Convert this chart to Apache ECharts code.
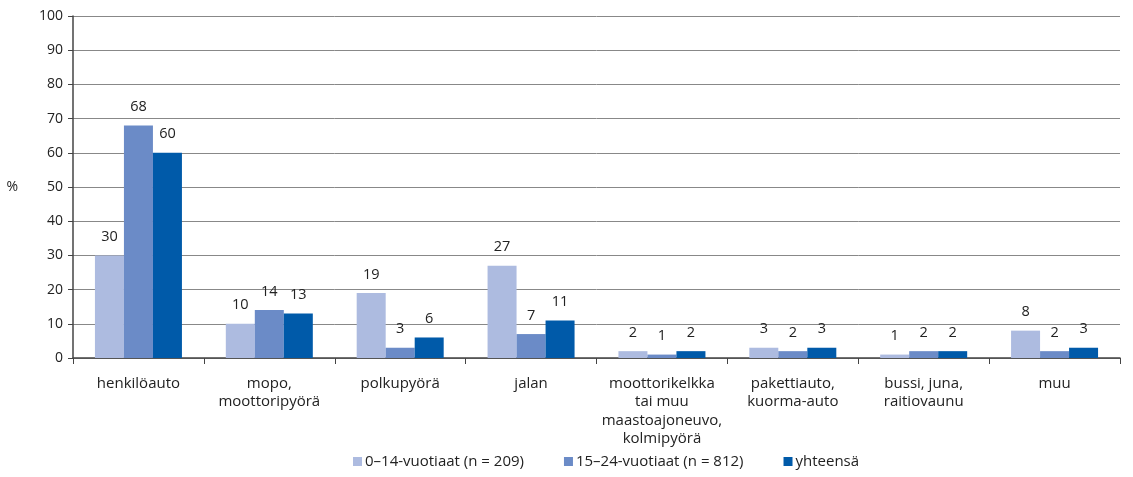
<!DOCTYPE html>
<html>
<head>
<meta charset="utf-8">
<script src="https://cdn.jsdelivr.net/npm/echarts@6/dist/echarts.min.js"></script>
<style>
  html, body { margin: 0; padding: 0; background: #fff; }
  #chart { width: 1133px; height: 477px; }
</style>
</head>
<body>
<div id="chart"></div>
<script>
const categories = ['henkilöauto', 'mopo,\nmoottoripyörä', 'polkupyörä', 'jalan',
    'moottorikelkka\ntai muu\nmaastoajoneuvo,\nkolmipyörä', 'pakettiauto,\nkuorma-auto',
    'bussi, juna,\nraitiovaunu', 'muu']
const seriesNames = ['0–14-vuotiaat (n = 209)', '15–24-vuotiaat (n = 812)', 'yhteensä']
const young = [30, 10, 19, 27, 2, 3, 1, 8]
const youth = [68, 14, 3, 7, 1, 2, 2, 2]
const total = [60, 13, 6, 11, 2, 3, 2, 3]
const colors = ['#adbbe0', '#6b8bc7', '#005aa9']

const font = '"Open Sans", "Noto Sans", sans-serif'
const chart = echarts.init(document.getElementById('chart'))

const makeSeries = (name, data, color) => ({
    name: name,
    type: 'bar',
    data: data,
    barWidth: 29,
    barGap: '0%',
    itemStyle: {color: color},
    label: {
        show: true,
        position: 'top',
        distance: 11,
        color: '#222',
        fontSize: 14.5,
        fontFamily: font
    }
})

chart.setOption({
    animation: false,
    textStyle: {fontFamily: font},
    grid: {left: 73, right: 13, top: 16, bottom: 119},
    legend: {
        bottom: 3,
        left: 348,
        itemWidth: 9,
        itemHeight: 9,
        itemGap: 40,
        icon: 'rect',
        textStyle: {color: '#222', fontSize: 15, fontFamily: font, padding: [0, 0, 0, -2]},
        data: seriesNames
    },
    xAxis: {
        type: 'category',
        data: categories,
        axisLine: {lineStyle: {color: '#444', width: 1.5}},
        axisTick: {show: true, length: 6, lineStyle: {color: '#444'}},
        axisLabel: {
            color: '#222',
            fontSize: 15,
            lineHeight: 18.5,
            margin: 16,
            interval: 0,
            fontFamily: font
        }
    },
    yAxis: {
        type: 'value',
        min: 0,
        max: 100,
        interval: 10,
        name: '%',
        nameLocation: 'middle',
        nameRotate: 0,
        nameGap: 55,
        nameTextStyle: {color: '#222', fontSize: 14, fontFamily: font},
        axisLine: {show: true, lineStyle: {color: '#444', width: 1.5}},
        axisTick: {show: true, length: 5, lineStyle: {color: '#444'}},
        axisLabel: {color: '#222', fontSize: 14, margin: 10, fontFamily: font},
        splitLine: {lineStyle: {color: '#888', width: 1}}
    },
    series: [
        makeSeries(seriesNames[0], young, colors[0]),
        makeSeries(seriesNames[1], youth, colors[1]),
        makeSeries(seriesNames[2], total, colors[2])
    ]
})
</script>
</body>
</html>
